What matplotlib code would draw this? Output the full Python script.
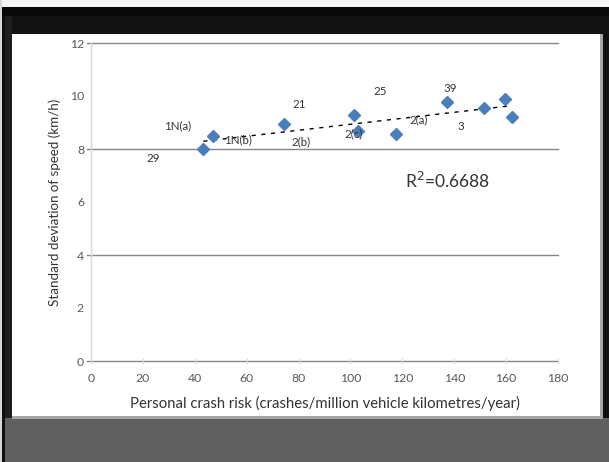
import matplotlib
matplotlib.use("Agg")
import matplotlib.pyplot as plt
import numpy as np
from matplotlib.patches import Rectangle

W, H = 609, 462

# crash risk vs speed deviation
crash_risk = [43.3, 46.9, 74.4, 101.5, 102.8, 117.4, 137.3, 151.6, 159.4, 162.1]
speed_sd = [8.00, 8.48, 8.94, 9.30, 8.68, 8.58, 9.79, 9.56, 9.87, 9.22]

# site labels floating in the plot
site_labels = ["1N(a)", "1N(b)", "29", "21", "2(b)", "25", "2(c)", "2(a)", "39", "3"]
label_x = [33.5, 56.6, 24.0, 80.4, 81.1, 111.5, 101.0, 126.2, 138.5, 142.4]
label_y = [8.86, 8.33, 7.64, 9.69, 8.28, 10.18, 8.58, 9.11, 10.28, 8.86]

r2_text = "R$^2$=0.6688"

x_ticks = list(range(0, 181, 20))
y_ticks = list(range(0, 13, 2))
grid_y = [0, 4, 8, 12]

FONT = "Lato"
TICK_C = "#595959"
TEXT_C = "#333333"
BLUE = "#4a7ebb"

plt.rcParams["font.family"] = FONT

fig = plt.figure(figsize=(W / 100, H / 100), dpi=100, facecolor="#111111")


def box(x0, y0, x1, y1, color):
    # pixel box (top-left origin) -> figure fraction rectangle
    fig.add_artist(Rectangle((x0 / W, 1 - y1 / H), (x1 - x0) / W, (y1 - y0) / H,
                             transform=fig.transFigure, facecolor=color,
                             edgecolor="none", zorder=-10))


# screenshot frame around the chart
box(0, 0, W, 7, "#f4f4f4")
box(0, 0, 2, H, "#d8d8d8")
box(2, 7, W, 16, "#080808")
box(5, 16, 12, H, "#1e1e1e")
box(5, 418, W, H, "#606060")
box(12, 34, 603, 419, "#a6a6a6")
box(12, 34, 600, 416, "white")

ax = fig.add_axes([91 / W, 1 - 361 / H, (558 - 91) / W, (361 - 43) / H])
ax.set_facecolor("white")

ax.set_xlim(0, 180)
ax.set_ylim(0, 12)

for gy in grid_y:
    ax.plot([-1.5, 180], [gy, gy], color="#868686", lw=1.0, clip_on=False, zorder=1)

ax.plot(crash_risk, speed_sd, linestyle="none", marker="D", markersize=6.6,
        color=BLUE, markeredgecolor=BLUE, zorder=3)

# linear trend across the data range
slope, icpt = np.polyfit(crash_risk, speed_sd, 1)
tx = np.array([min(crash_risk), max(crash_risk)])
ax.plot(tx, slope * tx + icpt, color="black", lw=1.0, dashes=(3, 4), zorder=2)

for lab, lx, ly in zip(site_labels, label_x, label_y):
    ax.text(lx, ly, lab, ha="center", va="center", fontsize=8.3, color=TEXT_C, zorder=4)

ax.text(137.3, 6.81, r2_text, ha="center", va="center", fontsize=12.5, color=TEXT_C)

for s in ["top", "right", "bottom"]:
    ax.spines[s].set_visible(False)
ax.spines["left"].set_color("#d9d9d9")
ax.spines["left"].set_linewidth(1.0)

ax.set_xticks(x_ticks)
ax.set_yticks(y_ticks)
ax.tick_params(axis="x", direction="inout", length=4, color="#d9d9d9",
               labelsize=8.8, labelcolor=TICK_C, pad=7)
ax.tick_params(axis="y", length=0, labelsize=8.8, labelcolor=TICK_C, pad=5)

ax.set_xlabel("Personal crash risk (crashes/million vehicle kilometres/year)",
              fontsize=10.7, color=TEXT_C, labelpad=8)
ax.set_ylabel("Standard deviation of speed (km/h)", fontsize=9.6, color=TEXT_C,
              labelpad=6)

fig.savefig("out.png", dpi=100, facecolor=fig.get_facecolor())
